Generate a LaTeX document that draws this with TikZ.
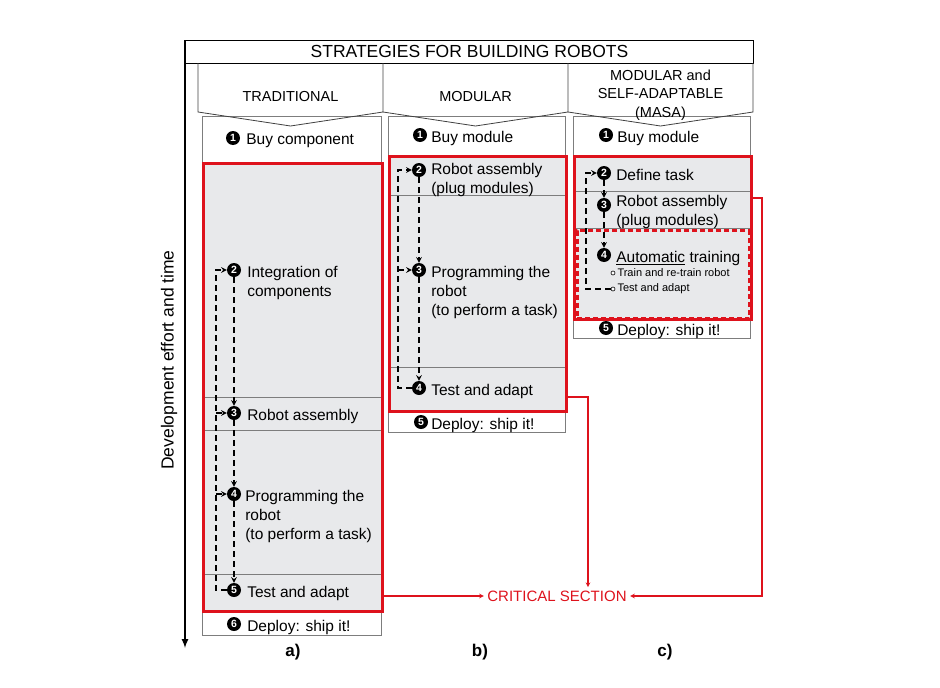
\documentclass[tikz,border=0pt]{standalone}
\usepackage{fontspec}
\setmainfont{Liberation Sans}
\usepackage{tikz}
\usetikzlibrary{arrows, calc, positioning}

\definecolor{critred}{RGB}{222,18,28}
\definecolor{rowgray}{RGB}{232,233,235}
\definecolor{edgegray}{RGB}{125,125,125}
\newcommand{\txtfont}{\fontsize{15.5}{19}\selectfont}
\newcommand{\hdrfont}{\fontsize{14.5}{18.5}\selectfont}
\newcommand{\subfont}{\fontsize{11}{13}\selectfont}

\begin{document}
\begin{tikzpicture}[x=1pt, y=-1pt, >=stealth, font=\txtfont]
    \tikzstyle{whitebox} = [rectangle, draw=edgegray, fill=white, line width=0.8pt, minimum width=179pt, inner sep=0pt, anchor=north west]
    \tikzstyle{graybox} = [whitebox, fill=rowgray]
    \tikzstyle{critbox} = [rectangle, draw=critred, line width=2.6pt, minimum width=179pt, inner sep=0pt, anchor=north west]
    \tikzstyle{badge} = [circle, fill=black, text=white, inner sep=0pt, minimum size=14pt, font=\fontsize{10.5}{10.5}\selectfont\bfseries]
    \tikzstyle{subdot} = [circle, draw=black, fill=white, line width=0.6pt, inner sep=0pt, minimum size=4pt]
    \tikzstyle{steptext} = [align=left, inner sep=0pt]
    \tikzstyle{flow} = [line width=1.5pt, dash pattern=on 6pt off 4pt]
    \tikzstyle{flowarrow} = [flow, ->]
    \tikzstyle{redarrow} = [critred, line width=1.1pt, ->]
    \tikzstyle{header} = [draw=black!75, line width=0.8pt]
    \useasboundingbox (0,0) rectangle (940,688);
    % Column a
    \node (boxa1) [whitebox, minimum height=46pt] at (202,116) {};
    \node (rowa1) [graybox, minimum height=235pt] at (202,162) {};
    \node (rowa2) [graybox, minimum height=33pt] at (202,397) {};
    \node (rowa3) [graybox, minimum height=144pt] at (202,430) {};
    \node (rowa4) [graybox, minimum height=36pt] at (202,574) {};
    \node (boxa6) [whitebox, minimum height=25pt] at (202,610) {};
    \node (reda) [critbox, minimum height=448pt] at (202,162) {};
    \node (a1) [badge] at (233,138) {1};
    \node (a2) [badge] at (234,270) {2};
    \node (a3) [badge] at (234,413) {3};
    \node (a4) [badge] at (234,494) {4};
    \node (a5) [badge] at (234,590) {5};
    \node (a6) [badge] at (234,624) {6};
    \node (ta1) [steptext, right=8pt of a1.north east, anchor=north west, yshift=-1pt] {Buy component};
    \node (ta2) [steptext, right=8pt of a2.north east, anchor=north west, yshift=-1pt] {Integration of\\components};
    \node (ta3) [steptext, right=8pt of a3.north east, anchor=north west, yshift=-1pt] {Robot assembly};
    \node (ta4) [steptext, right=6pt of a4.north east, anchor=north west, yshift=-1pt] {Programming the\\robot\\(to perform a task)};
    \node (ta5) [steptext, right=8pt of a5.north east, anchor=north west, yshift=-1pt] {Test and adapt};
    \node (ta6) [steptext, right=8pt of a6.north east, anchor=north west, yshift=-1pt] {Deploy: ship it!};
    % Column b
    \node (boxb1) [whitebox, minimum width=177pt, minimum height=39pt] at (388,116) {};
    \node (rowb1) [graybox, minimum width=177pt, minimum height=40pt] at (388,155) {};
    \node (rowb2) [graybox, minimum width=177pt, minimum height=172pt] at (388,195) {};
    \node (rowb3) [graybox, minimum width=177pt, minimum height=43pt] at (388,367) {};
    \node (boxb5) [whitebox, minimum width=177pt, minimum height=22pt] at (388,410) {};
    \node (redb) [critbox, minimum width=177pt, minimum height=255pt] at (388,155) {};
    \node (b1) [badge] at (420,135) {1};
    \node (b2) [badge] at (419,170) {2};
    \node (b3) [badge] at (419,270) {3};
    \node (b4) [badge] at (419,388) {4};
    \node (b5) [badge] at (421,422) {5};
    \node (tb1) [steptext, right=6pt of b1.north east, anchor=north west, yshift=-1pt] {Buy module};
    \node (tb2) [steptext, right=7pt of b2.north east, anchor=north west, yshift=2pt] {Robot assembly\\(plug modules)};
    \node (tb3) [steptext, right=7pt of b3.north east, anchor=north west, yshift=-1pt] {Programming the\\robot\\(to perform a task)};
    \node (tb4) [steptext, right=7pt of b4.north east, anchor=north west, yshift=-1pt] {Test and adapt};
    \node (tb5) [steptext, right=5pt of b5.north east, anchor=north west, yshift=-1pt] {Deploy: ship it!};
    % Column c
    \node (boxc1) [whitebox, minimum width=177pt, minimum height=39pt] at (573,116) {};
    \node (rowc1) [graybox, minimum width=177pt, minimum height=36pt] at (573,155) {};
    \node (rowc2) [graybox, minimum width=177pt, minimum height=37pt] at (573,191) {};
    \node (rowc3) [graybox, minimum width=177pt, minimum height=90pt] at (573,228) {};
    \node (boxc5) [whitebox, minimum width=177pt, minimum height=20pt] at (573,318) {};
    \node (redc) [critbox, minimum width=177pt, minimum height=163pt] at (573,155) {};
    \node (trainbox) [critbox, line width=3pt, dash pattern=on 5pt off 3pt, minimum width=172pt, minimum height=88pt] at (575.5,229) {};
    \node (c1) [badge] at (606,135) {1};
    \node (c2) [badge] at (604,173) {2};
    \node (c3) [badge] at (604,205) {3};
    \node (c4) [badge] at (604,255) {4};
    \node (c5) [badge] at (606,328) {5};
    \node (ct1) [subdot] at (613,273) {};
    \node (ct2) [subdot] at (613,289) {};
    \node (tc1) [steptext, right=6pt of c1.north east, anchor=north west, yshift=-1pt] {Buy module};
    \node (tc2) [steptext, right=7pt of c2.north east, anchor=north west, yshift=-1pt] {Define task};
    \node (tc3) [steptext, right=7pt of c3.north east, anchor=north west, yshift=5pt] {Robot assembly\\(plug modules)};
    \node (tc4) [steptext, right=7pt of c4.north east, anchor=north west, yshift=-1pt] {\underline{Automatic} training};
    \node (tct1) [steptext, font=\subfont, right=2pt of ct1] {Train and re-train robot};
    \node (tct2) [steptext, font=\subfont, right=2pt of ct2] {Test and adapt};
    \node (tc5) [steptext, right=6pt of c5.north east, anchor=north west, yshift=-1pt] {Deploy: ship it!};
    % Title and headers
    \node (title) [draw=black, line width=0.9pt, minimum width=568pt, minimum height=23pt, inner sep=0pt, anchor=north west, font=\fontsize{17.5}{20}\selectfont] at (185,40) {STRATEGIES FOR BUILDING ROBOTS};
    \draw [header] (198,63) -- (198,112) -- (290.5,126) -- (383,112) -- (383,63);
    \draw [header] (383,112) -- (475.5,126) -- (568,112) -- (568,63);
    \draw [header] (568,112) -- (660.5,126) -- (753,112) -- (753,63);
    \node (hdra) [font=\hdrfont] at (290.5,97) {TRADITIONAL};
    \node (hdrb) [font=\hdrfont] at (475.5,97) {MODULAR};
    \node (hdrc) [font=\hdrfont, align=center] at (660.5,95) {MODULAR and\\SELF-ADAPTABLE\\(MASA)};
    % Axis
    \draw [line width=2pt, ->, >=latex] (185,40) -- (185,648);
    \node (axislabel) [rotate=90, font=\fontsize{17.5}{20}\selectfont] at (169,360) {Development effort and time};
    % Flow arrows
    \draw [flowarrow] (a2) -- (a3);
    \draw [flowarrow] (a3) -- (a4);
    \draw [flowarrow] (a4) -- (a5);
    \draw [flowarrow] (a5.west) -| ([xshift=-18pt]a2.center) -- (a2);
    \draw [flowarrow] ([xshift=-18pt]a3.center) -- (a3);
    \draw [flowarrow] ([xshift=-18pt]a4.center) -- (a4);
    \draw [flowarrow] (b2) -- (b3);
    \draw [flowarrow] (b3) -- (b4);
    \draw [flowarrow] (b4.west) -| ([xshift=-21pt]b2.center) -- (b2);
    \draw [flowarrow] ([xshift=-21pt]b3.center) -- (b3);
    \draw [flowarrow] (c2) -- (c3);
    \draw [flowarrow] (c3) -- (c4);
    \draw [flowarrow] (ct2.west) -| ([xshift=-18pt]c2.center) -- (c2);
    % Critical section
    \node (crit) [text=critred, font=\fontsize{15}{18}\selectfont] at (557,596) {CRITICAL SECTION};
    \coordinate (bexit) at (565,397);
    \coordinate (cexit) at (750,198);
    \draw [redarrow] (reda.east |- crit) -- (crit.west);
    \draw [redarrow] (bexit) -| ([xshift=31pt]crit.north);
    \draw [redarrow] (cexit) -- ++(12,0) |- (crit.east);
    % Labels
    \node (laba) [font=\fontsize{17}{20}\selectfont\bfseries] at (293,652) {a)};
    \node (labb) [font=\fontsize{17}{20}\selectfont\bfseries] at (480,652) {b)};
    \node (labc) [font=\fontsize{17}{20}\selectfont\bfseries] at (665,652) {c)};
\end{tikzpicture}
\end{document}
